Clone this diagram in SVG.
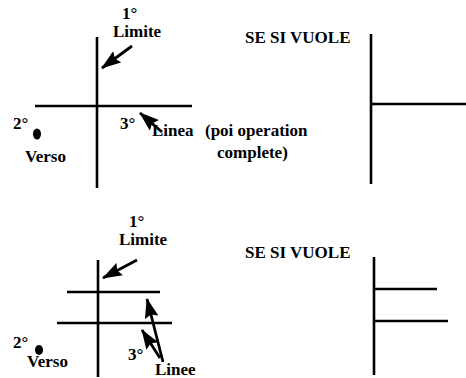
<svg xmlns="http://www.w3.org/2000/svg" width="466" height="378" viewBox="0 0 466 378">
<defs>
<style>
text{font-family:"Liberation Serif","DejaVu Serif",serif;font-weight:bold;font-size:17px;fill:#000}
.l{stroke:#000;stroke-width:2.6;fill:none}
.a{stroke:#000;stroke-width:2.8;fill:none;marker-end:url(#ah)}
</style>
<marker id="ah" markerUnits="userSpaceOnUse" markerWidth="20" markerHeight="14" refX="19" refY="7" orient="auto">
<path d="M0,0 L20,7 L0,14 L3,7 z" fill="#000"/>
</marker>
</defs>
<rect width="466" height="378" fill="#fff"/>
<g id="top-left" font-family="Liberation Serif, serif">
<line class="l" x1="97" y1="37" x2="97" y2="188"/>
<line class="l" x1="35" y1="106" x2="192" y2="106"/>
<text x="122" y="19">1°</text>
<text x="113" y="37">Limite</text>
<text x="13" y="129">2°</text>
<ellipse cx="37" cy="134" rx="4" ry="5.5" fill="#000"/>
<text x="25" y="162">Verso</text>
<text x="120" y="129">3°</text>
<text><tspan x="152" y="136">Linea</tspan><tspan x="205" y="136">(poi operation</tspan></text>
<text x="217" y="158">complete)</text>
</g>
<g id="top-right">
<text x="245" y="43">SE SI VUOLE</text>
<line class="l" x1="371" y1="34" x2="371" y2="184"/>
<line class="l" x1="371" y1="104" x2="466" y2="104"/>
</g>
<g id="bottom-left">
<line class="l" x1="98" y1="260" x2="98" y2="377"/>
<line class="l" x1="67" y1="292" x2="160" y2="292"/>
<line class="l" x1="57" y1="323" x2="172" y2="323"/>
<text x="129" y="227">1°</text>
<text x="119" y="245">Limite</text>
<text x="13" y="348">2°</text>
<ellipse cx="39" cy="350" rx="4" ry="5" fill="#000"/>
<text x="27" y="367">Verso</text>
<text x="128" y="360">3°</text>
<text x="155" y="375">Linee</text>
</g>
<g id="bottom-right">
<text x="245" y="258">SE SI VUOLE</text>
<line class="l" x1="374" y1="257" x2="374" y2="375"/>
<line class="l" x1="374" y1="289" x2="437" y2="289"/>
<line class="l" x1="374" y1="321" x2="448" y2="321"/>
</g>
<g id="connectors">
<line class="a" x1="132" y1="46" x2="102" y2="68"/>
<line class="a" x1="162" y1="132" x2="140" y2="113"/>
<line class="a" x1="137" y1="260" x2="103" y2="278"/>
<line class="a" x1="163" y1="362" x2="147" y2="299"/>
<line class="a" x1="160" y1="358" x2="142" y2="330"/>
</g>
</svg>
